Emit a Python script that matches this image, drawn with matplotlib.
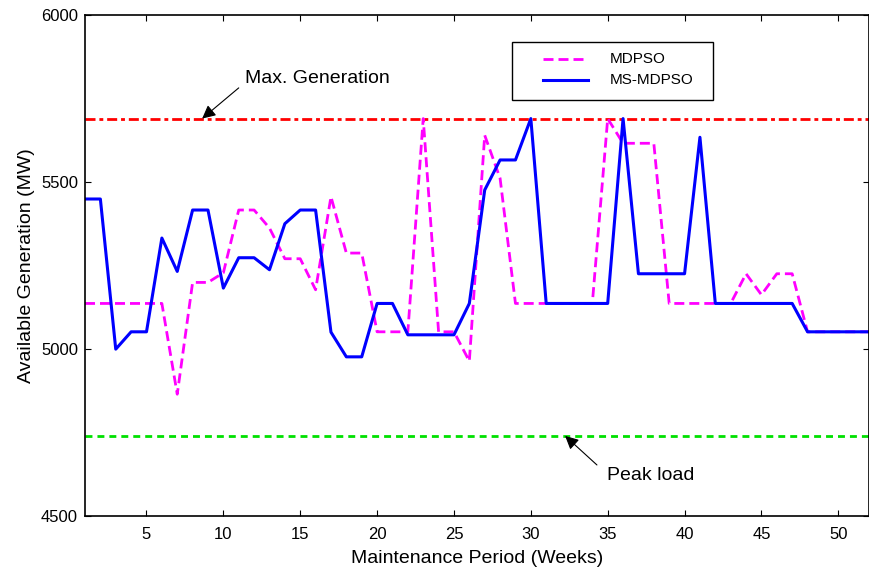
import numpy as np
import matplotlib.pyplot as plt

plt.rcParams['font.family'] = ['Liberation Sans', 'DejaVu Sans']

weeks = list(range(1, 53))

mdpso = [5137, 5137, 5137, 5137, 5137, 5137, 4865, 5200, 5200, 5229,
         5417, 5417, 5363, 5271, 5271, 5178, 5457, 5288, 5288, 5052,
         5052, 5052, 5691, 5052, 5052, 4964, 5641, 5512, 5137, 5137,
         5137, 5137, 5137, 5137, 5691, 5617, 5617, 5617, 5137, 5137,
         5137, 5137, 5137, 5226, 5163, 5226, 5226, 5052, 5052, 5052,
         5052, 5052]

ms_mdpso = [5450, 5450, 5000, 5052, 5052, 5333, 5233, 5417, 5417, 5183,
            5274, 5274, 5238, 5376, 5417, 5417, 5051, 4977, 4977, 5137,
            5137, 5043, 5043, 5043, 5043, 5137, 5477, 5567, 5567, 5691,
            5137, 5137, 5137, 5137, 5137, 5691, 5226, 5226, 5226, 5226,
            5635, 5137, 5137, 5137, 5137, 5137, 5137, 5052, 5052, 5052,
            5052, 5052]

max_gen = 5691
peak_load = 4740

fig = plt.figure(figsize=(8.7, 5.71), dpi=100)
ax = fig.add_axes([0.0977, 0.0963, 0.9012, 0.8766])

ax.axhline(max_gen, color='red', linestyle='-.', linewidth=2, dashes=(3.6, 1.4, 1.4, 1.4))
ax.axhline(peak_load, color='#00e000', linestyle='--', linewidth=2, dashes=(2.5, 1.8))
ax.plot(weeks, mdpso, color='magenta', linestyle='--', linewidth=2, dashes=(3.6, 1.8))
ax.plot(weeks, ms_mdpso, color='blue', linewidth=2.2)

ax.set_xlim(1, 52)
ax.set_ylim(4500, 6000)
ax.set_xticks(range(5, 51, 5))
ax.set_yticks([4500, 5000, 5500, 6000])
ax.tick_params(direction='in', top=True, right=True, length=4, labelsize=12)
ax.tick_params(axis='y', pad=5)
ax.tick_params(axis='x', pad=8)
for s in ax.spines.values():
    s.set_linewidth(1.2)

ax.set_xlabel('Maintenance Period (Weeks)', fontsize=14, labelpad=6)
ax.set_ylabel('Available Generation (MW)', fontsize=14, labelpad=4)

# annotations
arrow = dict(arrowstyle='-|>', color='black', lw=0.8, mutation_scale=20,
             shrinkA=0, shrinkB=0)
ax.annotate('', xy=(8.62, max_gen), xytext=(11.0, 5783), arrowprops=arrow)
ax.text(11.4, 5810, 'Max. Generation', fontsize=14, va='center', ha='left')
ax.annotate('', xy=(32.23, peak_load), xytext=(34.3, 4653), arrowprops=arrow)
ax.text(34.95, 4620, 'Peak load', fontsize=14, va='center', ha='left')

# legend box drawn in axes coordinates
ax.add_patch(plt.Rectangle((0.5446, 0.831), 0.2564, 0.116, transform=ax.transAxes,
                           facecolor='white', edgecolor='black', linewidth=1, zorder=5))
ax.plot([0.584, 0.6416], [0.913, 0.913], transform=ax.transAxes, color='magenta',
        linestyle='--', linewidth=2, dashes=(3.6, 1.8), zorder=6)
ax.plot([0.584, 0.6416], [0.871, 0.871], transform=ax.transAxes, color='blue',
        linewidth=2.2, zorder=6)
ax.text(0.6696, 0.913, 'MDPSO', transform=ax.transAxes, fontsize=11, va='center', zorder=6)
ax.text(0.6696, 0.871, 'MS-MDPSO', transform=ax.transAxes, fontsize=11, va='center', zorder=6)

fig.savefig('out.png', dpi=100)
